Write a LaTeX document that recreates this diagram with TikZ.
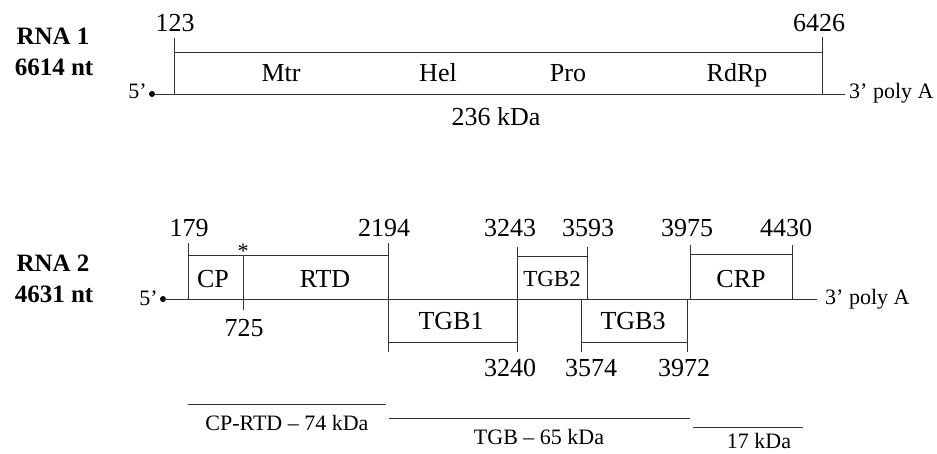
\documentclass[tikz,border=0pt]{standalone}
\usepackage{fontspec}
\setmainfont{Liberation Serif}
\begin{document}
\begin{tikzpicture}[x=1pt,y=-1pt,
  ln/.style={line width=0.9pt,draw=black!80},
  t/.style={inner sep=0pt,text height=17.7pt,text depth=0pt,font=\fontsize{26}{30}\selectfont},
  lab/.style={inner sep=0pt,text height=17.7pt,text depth=0pt,font=\fontsize{26}{30}\selectfont},
  big/.style={inner sep=0pt,text height=17pt,text depth=0pt,font=\fontsize{25}{30}\selectfont\bfseries},
  kda/.style={inner sep=0pt,text height=15pt,text depth=0pt,font=\fontsize{22}{26}\selectfont},
  sm/.style={inner sep=0pt,text height=15pt,text depth=0pt,font=\fontsize{22}{26}\selectfont},
  dot/.style={circle,fill=black,inner sep=0pt,minimum size=6pt}]
\useasboundingbox (0,0) rectangle (937,454);

% ---------- RNA 1 ----------
\node[big] (r1a) at (53,36) {RNA 1};
\node[big] (r1b) at (54,67) {6614 nt};
\node[sm,anchor=east] (r1five) at (147,91) {5’};
\node[dot] (r1dot) at (152,94) {};
\coordinate (r1end) at (845,94);
\node[sm,anchor=west] (r1three) at (849,91) {3’ poly A};
\draw[ln] (r1dot.center) -- (r1end);
\coordinate (r1L) at (174,94);
\coordinate (r1Lt) at (174,38);
\coordinate (r1R) at (822,94);
\coordinate (r1Rt) at (822,37);
\coordinate (r1Lh) at (174,52);
\coordinate (r1Rh) at (822,52);
\draw[ln] (r1L) -- (r1Lt);
\draw[ln] (r1R) -- (r1Rt);
\draw[ln] (r1Lh) -- (r1Rh);
\node[t] (n123) at (175,23) {123};
\node[t] (n6426) at (819,23) {6426};
\node[lab] (mtr) at (281,73) {Mtr};
\node[lab] (hel) at (438,73) {Hel};
\node[lab] (pro) at (568,73) {Pro};
\node[lab] (rdrp) at (737,73) {RdRp};
\node[t] (k236) at (496,117) {236 kDa};

% ---------- RNA 2 ----------
\node[big] (r2a) at (53,263) {RNA 2};
\node[big] (r2b) at (54,294) {4631 nt};
\node[sm,anchor=east] (r2five) at (158,298) {5’};
\node[dot] (r2dot) at (163,299) {};
\coordinate (r2end) at (817,299);
\node[sm,anchor=west] (r2three) at (825,297) {3’ poly A};
\draw[ln] (r2dot.center) -- (r2end);

% CP / RTD
\coordinate (a1) at (188,243);
\coordinate (a2) at (188,299);
\coordinate (a3) at (188,255);
\coordinate (b1) at (388,243);
\coordinate (b2) at (388,352);
\coordinate (b3) at (388,255);
\coordinate (c1) at (243,255);
\coordinate (c2) at (243,310);
\draw[ln] (a1) -- (a2);
\draw[ln] (a3) -- (b3);
\draw[ln] (b1) -- (b2);
\draw[ln] (c1) -- (c2);
\node[inner sep=0pt,font=\fontsize{22}{26}\selectfont] (star) at (243,251) {*};
\node[lab] (cp) at (213,279) {CP};
\node[lab] (rtd) at (325,279) {RTD};
% TGB1
\coordinate (d1) at (388,342);
\coordinate (d2) at (517,342);
\coordinate (e1) at (517,247);
\coordinate (e2) at (517,352);
\draw[ln] (d1) -- (d2);
\draw[ln] (e1) -- (e2);
\node[lab] (tgb1) at (451,321) {TGB1};
% TGB2
\coordinate (f1) at (517,256);
\coordinate (f2) at (587,256);
\coordinate (g1) at (587,247);
\coordinate (g2) at (587,299);
\draw[ln] (f1) -- (f2);
\draw[ln] (g1) -- (g2);
\node[inner sep=0pt,text height=15.6pt,text depth=0pt,font=\fontsize{23}{27}\selectfont] (tgb2) at (552,279) {TGB2};
% TGB3
\coordinate (h1) at (581,299);
\coordinate (h2) at (581,352);
\coordinate (h3) at (581,342);
\coordinate (i1) at (687,299);
\coordinate (i2) at (687,352);
\coordinate (i3) at (687,342);
\draw[ln] (h1) -- (h2);
\draw[ln] (h3) -- (i3);
\draw[ln] (i1) -- (i2);
\node[lab] (tgb3) at (633,321) {TGB3};
% CRP
\coordinate (j1) at (690,245);
\coordinate (j2) at (690,299);
\coordinate (j3) at (690,254);
\coordinate (k1) at (792,245);
\coordinate (k2) at (792,299);
\coordinate (k3) at (792,254);
\draw[ln] (j1) -- (j2);
\draw[ln] (j3) -- (k3);
\draw[ln] (k1) -- (k2);
\node[lab] (crp) at (741,279) {CRP};

% numbers
\node[t] (n179) at (189,228) {179};
\node[t] (n2194) at (384,228) {2194};
\node[t] (n3243) at (510,228) {3243};
\node[t] (n3593) at (588,228) {3593};
\node[t] (n3975) at (687,228) {3975};
\node[t] (n4430) at (786,228) {4430};
\node[t] (n725) at (244,328) {725};
\node[t] (n3240) at (510,368) {3240};
\node[t] (n3574) at (591,368) {3574};
\node[t] (n3972) at (684,368) {3972};

% protein lines
\coordinate (p1) at (188,404);
\coordinate (p2) at (386,404);
\coordinate (q1) at (389,418);
\coordinate (q2) at (690,418);
\coordinate (s1) at (693,427);
\coordinate (s2) at (803,427);
\draw[ln] (p1) -- (p2);
\draw[ln] (q1) -- (q2);
\draw[ln] (s1) -- (s2);
\node[kda] (cprtd) at (287,423) {CP-RTD – 74 kDa};
\node[kda] (tgb) at (539,437) {TGB – 65 kDa};
\node[kda] (k17) at (759,441) {17 kDa};
\end{tikzpicture}
\end{document}
